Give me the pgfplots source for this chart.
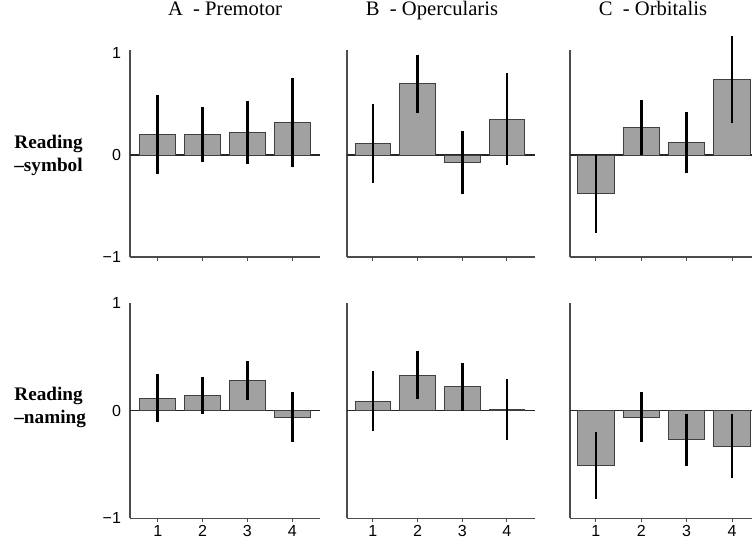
\documentclass[border=0pt]{standalone}
\usepackage{fontspec}
\setmainfont{Liberation Serif}
\setsansfont{Liberation Sans}
\usepackage{pgfplots}
\pgfplotsset{compat=1.18}
\usepackage{pgfplotstable}

\pgfplotstableread{
x y e
1 0.20 0.39
2 0.20 0.27
3 0.22 0.31
4 0.32 0.44
}\topA
\pgfplotstableread{
x y e
1 0.115 0.39
2 0.70 0.285
3 -0.075 0.31
4 0.35 0.45
}\topB
\pgfplotstableread{
x y e
1 -0.38 0.38
2 0.27 0.27
3 0.12 0.30
4 0.74 0.43
}\topC
\pgfplotstableread{
x y e
1 0.115 0.225
2 0.14 0.175
3 0.28 0.18
4 -0.06 0.23
}\botA
\pgfplotstableread{
x y e
1 0.087 0.28
2 0.33 0.22
3 0.22 0.22
4 0.01 0.28
}\botB
\pgfplotstableread{
x y e
1 -0.51 0.31
2 -0.06 0.23
3 -0.27 0.24
4 -0.33 0.30
}\botC

\pgfplotsset{
  panel/.style={
    scale only axis,
    anchor=south west,
    axis x line*=bottom, axis y line*=left,
    axis line style={draw=black!70, line width=0.6pt, -},
    ymin=-1,
    xtick={1,2,3,4}, ytick={-1,0,1}, yticklabels={−1,0,1},
    tick align=center, major tick length=2pt,
    ytick style={draw=none},
    xtick style={draw=black!70, line width=0.5pt},
    tick label style={font=\sffamily\fontsize{8}{9.6}\selectfont},
    xticklabel style={yshift=1.8pt},
    /pgf/number format/assume math mode=true,
    extra y ticks={0}, extra y tick labels={},
    extra y tick style={grid=major, major grid style={black!85, line width=0.6pt}, tick style={draw=none}},
    ybar, bar width=0.8,
    clip=false,
    title style={font=\fontsize{10.3}{12}\selectfont, anchor=base, at={(0.5,1)}, yshift=11.2pt},
  },
  toprow/.style={panel, height=103.5pt, ymax=1.03, xticklabels={}},
  botrow/.style={panel, height=107.7pt, ymax=1.0},
  colA/.style={width=95pt, xmin=0.38, xmax=4.62},
  colB/.style={width=94pt, xmin=0.42, xmax=4.63, yticklabels={}},
  colC/.style={width=91pt, xmin=0.43, xmax=4.44, yticklabels={}},
  barplot/.style={fill=black!37, draw=black!75, line width=0.5pt,
    error bars/.cd, y dir=both, y explicit, error mark=none,
    error bar style={black, line width=1.3pt}},
}

\begin{document}
\begin{tikzpicture}
\useasboundingbox (0,0) rectangle (376pt,269pt);

\begin{axis}[toprow, colA, at={(65pt,140.5pt)}, title={A~~-~Premotor}]
\addplot[barplot] table[x=x, y=y, y error=e] {\topA};
\end{axis}
\begin{axis}[toprow, colB, at={(173.5pt,140.5pt)}, title={B~~-~Opercularis}, title style={xshift=-4.5pt}]
\addplot[barplot] table[x=x, y=y, y error=e] {\topB};
\end{axis}
\begin{axis}[toprow, colC, at={(285pt,140.5pt)}, title={C~~-~Orbitalis}, title style={xshift=-4pt}]
\addplot[barplot] table[x=x, y=y, y error=e] {\topC};
\end{axis}

\begin{axis}[botrow, colA, at={(65pt,9.85pt)}]
\addplot[barplot] table[x=x, y=y, y error=e] {\botA};
\end{axis}
\begin{axis}[botrow, colB, at={(173.5pt,9.85pt)}]
\addplot[barplot] table[x=x, y=y, y error=e] {\botB};
\end{axis}
\begin{axis}[botrow, colC, at={(285pt,9.85pt)}]
\addplot[barplot] table[x=x, y=y, y error=e] {\botC};
\end{axis}

\node[anchor=base west, inner sep=0pt, font=\bfseries\fontsize{9.6}{11.5}\selectfont] at (7pt,194.85pt) {Reading};
\node[anchor=base west, inner sep=0pt, font=\bfseries\fontsize{9.6}{11.5}\selectfont] at (7pt,183.15pt) {–symbol};
\node[anchor=base west, inner sep=0pt, font=\bfseries\fontsize{9.6}{11.5}\selectfont] at (7pt,69pt) {Reading};
\node[anchor=base west, inner sep=0pt, font=\bfseries\fontsize{9.6}{11.5}\selectfont] at (7pt,57.3pt) {–naming};
\end{tikzpicture}
\end{document}
